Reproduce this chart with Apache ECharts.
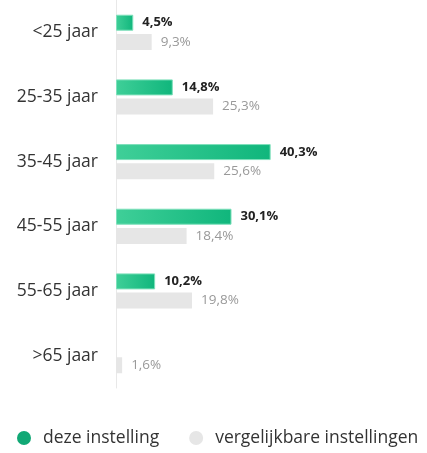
<!DOCTYPE html>
<html><head><meta charset="utf-8">
<script src="https://cdn.jsdelivr.net/npm/echarts@6/dist/echarts.min.js"></script>
<style>html,body{margin:0;padding:0;background:#fff}#c{width:427px;height:453px}</style>
</head><body><div id="c"></div>
<script>
var categories = ['<25 jaar','25-35 jaar','35-45 jaar','45-55 jaar','55-65 jaar','>65 jaar'];
var dezeInstelling = [4.5, 14.8, 40.3, 30.1, 10.2, null];
var vergelijkbare = [9.3, 25.3, 25.6, 18.4, 19.8, 1.6];
var seriesNames = ['deze instelling', 'vergelijkbare instellingen'];
function fmt(p){ return p.value == null ? '' : String(p.value.toFixed(1)).replace('.', ',') + '%'; }
var F = '"Open Sans", sans-serif';
var chart = echarts.init(document.getElementById('c'));
chart.setOption({
  animation: false,
  textStyle: {fontFamily: F},
  grid: {left: 116, right: 4, top: -2, height: 390},
  xAxis: {type: 'value', min: 0, max: 80, show: false},
  yAxis: {type: 'category', data: categories, inverse: true,
    axisLine: {show: true, lineStyle: {color: '#e8e8e8', width: 1}},
    axisTick: {show: false},
    axisLabel: {color: '#333', fontSize: 17.5, margin: 18, fontFamily: F}},
  legend: {bottom: 1, left: 12, itemGap: 30, icon: 'circle', itemWidth: 14, itemHeight: 14,
    textStyle: {fontSize: 17.5, color: '#333', fontFamily: F, padding: [0,0,0,7]},
    data: [{name: seriesNames[0], itemStyle: {color: '#11a875', borderWidth: 0}}, {name: seriesNames[1], itemStyle: {color: '#e6e6e6', borderWidth: 0}}]},
  series: [
    {name: seriesNames[0], type: 'bar', data: dezeInstelling, barWidth: 16, barGap: '20%',
      itemStyle: {color: new echarts.graphic.LinearGradient(0,0,1,0,[{offset:0,color:'#3fcf98'},{offset:1,color:'#10b67c'}]),
        borderColor: '#7ee0bb', borderWidth: 1},
      label: {show: true, position: 'right', distance: 9, formatter: fmt, color: '#222', fontWeight: 'bold', fontSize: 13, fontFamily: F}},
    {name: seriesNames[1], type: 'bar', data: vergelijkbare, barWidth: 16,
      itemStyle: {color: '#e6e6e6'},
      label: {show: true, position: 'right', distance: 9, formatter: fmt, color: '#999', fontSize: 13.5, fontFamily: F}}
  ]
});
</script></body></html>
